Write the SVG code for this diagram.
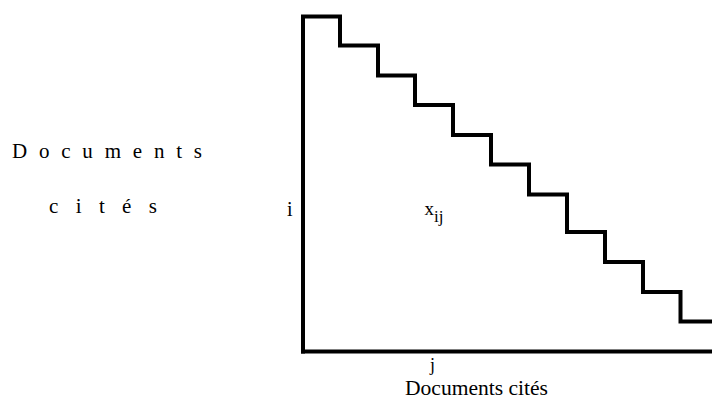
<svg xmlns="http://www.w3.org/2000/svg" width="712" height="403" viewBox="0 0 712 403">
<style>
.t{font-family:"Liberation Serif","Times New Roman",serif;fill:#000}
.ln{fill:none;stroke:#000;stroke-width:4;stroke-linecap:square;stroke-linejoin:miter}
</style>
<rect width="712" height="403" fill="#fff"/>
<g id="connectors">
<path class="ln" d="M303,351.5 V16.5 H340 V45.5 H378 V75.5 H415 V105 H453 V135 H491 V164.5 H529 V194.5 H567 V232 H605 V262 H643 V292 H680.5 V321.5 H712"/>
<path class="ln" d="M303,351.5 H712"/>
</g>
<g id="ylabel">
<text class="t" x="12" y="158" font-size="21" textLength="190" lengthAdjust="spacing">Documents</text>
<text class="t" x="49" y="213" font-size="21" textLength="108" lengthAdjust="spacing">cités</text>
</g>
<g id="i-label"><text class="t" x="287" y="216" font-size="20">i</text></g>
<g id="xij"><text class="t" x="424.5" y="215" font-size="19">x<tspan font-size="17" dy="7">ij</tspan></text></g>
<g id="j-label"><text class="t" x="430" y="371" font-size="18">j</text></g>
<g id="xlabel"><text class="t" x="405" y="395" font-size="21" textLength="143" lengthAdjust="spacingAndGlyphs">Documents cités</text></g>
</svg>
